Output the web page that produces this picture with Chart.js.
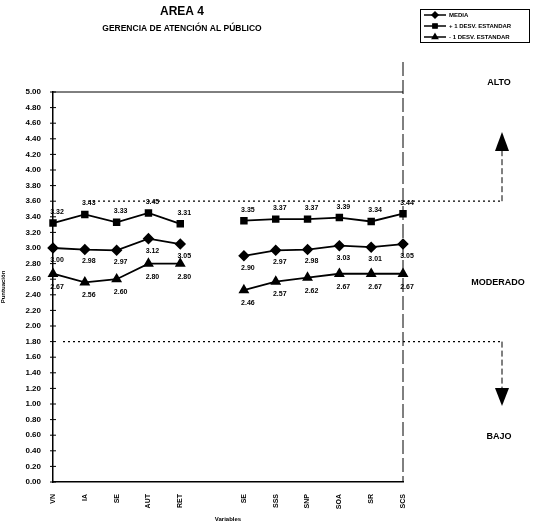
<!DOCTYPE html>
<html>
<head>
<meta charset="utf-8">
<script src="https://cdn.jsdelivr.net/npm/chart.js@4/dist/chart.umd.min.js"></script>
<style>
  html, body { margin: 0; padding: 0; background: #fff; }
  #wrap { width: 536px; height: 525px; }
</style>
</head>
<body>
<div id="wrap"><canvas id="areaChart" width="536" height="525"></canvas></div>
<script>
// categories (blank slot separates the two groups)
const categories = ['VN', 'IA', 'SE', 'AUT', 'RET', '', 'SE', 'SSS', 'SNP', 'SOA', 'SR', 'SCS'];
const media = [3.00, 2.98, 2.97, 3.12, 3.05, null, 2.90, 2.97, 2.98, 3.03, 3.01, 3.05];
const masDesv = [3.32, 3.43, 3.33, 3.45, 3.31, null, 3.35, 3.37, 3.37, 3.39, 3.34, 3.44];
const menosDesv = [2.67, 2.56, 2.60, 2.80, 2.80, null, 2.46, 2.57, 2.62, 2.67, 2.67, 2.67];
const limiteAlto = 3.60;
const limiteBajo = 1.80;

const FONT = '"Liberation Sans", Arial, sans-serif';

// value labels next to each point
const labelOffsets = [12, -11, 13];
const valueLabels = {
    id: 'valueLabels',
    afterDatasetsDraw(chart) {
        const ctx = chart.ctx;
        ctx.save();
        ctx.font = 'bold 7px ' + FONT;
        ctx.fillStyle = '#000';
        ctx.textAlign = 'center';
        ctx.textBaseline = 'middle';
        chart.data.datasets.forEach((ds, i) => {
            const meta = chart.getDatasetMeta(i);
            meta.data.forEach((pt, j) => {
                const v = ds.data[j];
                if (v === null) return;
                ctx.fillText(v.toFixed(2), pt.x + 4, pt.y + labelOffsets[i]);
            });
        });
        ctx.restore();
    }
};

// titles, legend box, thresholds and ALTO / MODERADO / BAJO marks
const decorations = {
    id: 'decorations',
    afterDraw(chart) {
        const ctx = chart.ctx;
        const x = chart.scales.x;
        const y = chart.scales.y;
        const area = chart.chartArea;
        ctx.save();
        ctx.fillStyle = '#000';
        ctx.strokeStyle = '#000';
        ctx.textAlign = 'center';
        ctx.textBaseline = 'middle';

        ctx.font = 'bold 12px ' + FONT;
        ctx.fillText('AREA 4', 182, 12);
        ctx.font = 'bold 8.5px ' + FONT;
        ctx.fillText('GERENCIA DE ATENCIÓN AL PÚBLICO', 182, 29);

        // top border of plot
        ctx.lineWidth = 1;
        ctx.beginPath();
        ctx.moveTo(area.left, area.top);
        ctx.lineTo(area.right, area.top);
        ctx.stroke();

        // small tick crosses on the y axis
        ctx.lineWidth = 1;
        y.ticks.forEach(t => {
            const py = y.getPixelForValue(t.value);
            ctx.beginPath();
            ctx.moveTo(area.left - 3, py);
            ctx.lineTo(area.left + 3, py);
            ctx.stroke();
        });

        // vertical dashed line at last category
        const xr = x.getPixelForValue(categories.length - 1);
        ctx.setLineDash([14, 4]);
        ctx.beginPath();
        ctx.moveTo(xr, 62);
        ctx.lineTo(xr, area.bottom);
        ctx.stroke();

        const xa = 502;
        const yA = y.getPixelForValue(limiteAlto);
        const yB = y.getPixelForValue(limiteBajo);
        ctx.setLineDash([2, 3]);
        ctx.lineWidth = 1.2;
        ctx.beginPath();
        ctx.moveTo(area.left + 35, yA);
        ctx.lineTo(xa, yA);
        ctx.moveTo(area.left + 10, yB);
        ctx.lineTo(xa, yB);
        ctx.stroke();

        ctx.setLineDash([6, 3]);
        ctx.lineWidth = 1;
        ctx.beginPath();
        ctx.moveTo(xa, yA);
        ctx.lineTo(xa, 150);
        ctx.moveTo(xa, yB);
        ctx.lineTo(xa, 388);
        ctx.stroke();
        ctx.setLineDash([]);

        // arrow heads
        ctx.beginPath();
        ctx.moveTo(xa, 132);
        ctx.lineTo(xa - 7, 151);
        ctx.lineTo(xa + 7, 151);
        ctx.closePath();
        ctx.fill();
        ctx.beginPath();
        ctx.moveTo(xa, 406);
        ctx.lineTo(xa - 7, 388);
        ctx.lineTo(xa + 7, 388);
        ctx.closePath();
        ctx.fill();

        ctx.font = 'bold 9px ' + FONT;
        ctx.fillText('ALTO', 499, 83);
        ctx.fillText('MODERADO', 498, 283);
        ctx.fillText('BAJO', 499, 437);

        // legend box
        ctx.lineWidth = 1;
        ctx.strokeRect(420.5, 9.5, 109, 33);
        const styles = ['rectRot', 'rect', 'triangle'];
        const names = ['MEDIA', '+ 1 DESV. ESTANDAR', '- 1 DESV. ESTANDAR'];
        ctx.textAlign = 'left';
        ctx.font = 'bold 6px ' + FONT;
        names.forEach((n, i) => {
            const ly = 15 + i * 11;
            ctx.lineWidth = 1.5;
            ctx.beginPath();
            ctx.moveTo(424, ly);
            ctx.lineTo(446, ly);
            ctx.stroke();
            Chart.helpers.drawPoint(ctx, { pointStyle: styles[i], radius: 3, borderWidth: 1 }, 435, ly);
            ctx.fill();
            ctx.fillText(n, 449, ly + 0.5);
        });
        ctx.restore();
    }
};

const ctx = document.getElementById('areaChart').getContext('2d');
const areaChart = new Chart(ctx, {
    type: 'line',
    data: {
        labels: categories,
        datasets: [
            {
                label: 'MEDIA',
                data: media,
                pointStyle: 'rectRot',
                pointRadius: 4.5
            },
            {
                label: '+ 1 DESV. ESTANDAR',
                data: masDesv,
                pointStyle: 'rect',
                pointRadius: 4
            },
            {
                label: '- 1 DESV. ESTANDAR',
                data: menosDesv,
                pointStyle: 'triangle',
                pointRadius: 4.5
            }
        ].map(d => Object.assign(d, {
            borderColor: '#000',
            backgroundColor: '#000',
            pointBackgroundColor: '#000',
            pointBorderColor: '#000',
            borderWidth: 1.8,
            tension: 0,
            spanGaps: false
        }))
    },
    options: {
        responsive: false,
        animation: false,
        layout: { padding: { left: 0, top: 92, right: 133, bottom: 0 } },
        plugins: {
            legend: { display: false },
            title: { display: false },
            tooltip: { enabled: false }
        },
        scales: {
            x: {
                offset: false,
                grid: { display: false, drawTicks: true },
                border: { color: '#000', width: 1.5 },
                ticks: {
                    color: '#000',
                    minRotation: 90,
                    maxRotation: 90,
                    autoSkip: false,
                    padding: 4,
                    font: { family: FONT, size: 7, weight: 'bold' }
                },
                title: {
                    display: true,
                    text: 'Variables',
                    color: '#000',
                    padding: { top: 0, bottom: 2 },
                    font: { family: FONT, size: 6, weight: 'bold' }
                },
                afterFit(s) { s.width = s.width; s.height = 43; }
            },
            y: {
                min: 0,
                max: 5,
                grid: { display: false, drawOnChartArea: false, drawTicks: false },
                border: { color: '#000', width: 1.5 },
                ticks: {
                    stepSize: 0.2,
                    color: '#000',
                    padding: 12,
                    font: { family: FONT, size: 8, weight: 'bold' },
                    callback: v => v.toFixed(2)
                },
                title: {
                    display: true,
                    text: 'Puntuación',
                    color: '#000',
                    padding: 0,
                    font: { family: FONT, size: 6, weight: 'bold' }
                },
                afterFit(s) { s.width = 53; }
            }
        }
    },
    plugins: [valueLabels, decorations]
});
</script>
</body>
</html>
